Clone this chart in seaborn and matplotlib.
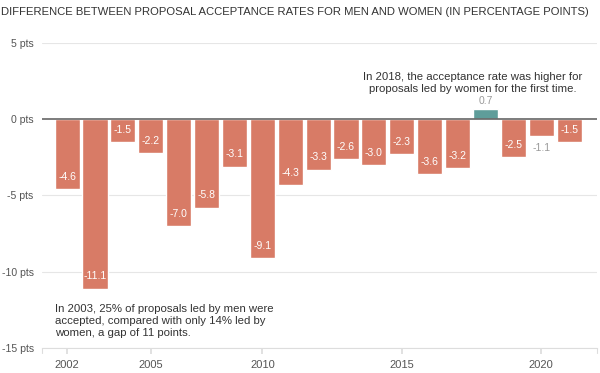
import matplotlib
matplotlib.use("Agg")
import matplotlib.pyplot as plt
import numpy as np
import pandas as pd
import seaborn as sns

# data (2009 is missing in the source)
years = ["2002", "2003", "2004", "2005", "2006", "2007", "2008", "2010", "2011", "2012",
         "2013", "2014", "2015", "2016", "2017", "2018", "2019", "2020", "2021"]
diff = [-4.6, -11.1, -1.5, -2.2, -7.0, -5.8, -3.1, -9.1, -4.3, -3.3,
        -2.6, -3.0, -2.3, -3.6, -3.2, 0.7, -2.5, -1.1, -1.5]
tick_years = ["2002", "2005", "2010", "2015", "2020"]
y_ticks = [5, 0, -5, -10, -15]

title = "DIFFERENCE BETWEEN PROPOSAL ACCEPTANCE RATES FOR MEN AND WOMEN (IN PERCENTAGE POINTS)"
note_2018 = "In 2018, the acceptance rate was higher for\nproposals led by women for the first time."
note_2003 = "In 2003, 25% of proposals led by men were\naccepted, compared with only 14% led by\nwomen, a gap of 11 points."

NEG = "#d87b66"
POS = "#5f9d9a"

df = pd.DataFrame({"year": years, "diff": diff})
df["sign"] = np.where(df["diff"] > 0, "pos", "neg")

sns.set_theme(style="white")
plt.rcParams["font.family"] = ["Liberation Sans", "DejaVu Sans"]

fig = plt.figure(figsize=(6, 3.73), dpi=100)
ax = fig.add_axes([42 / 600, 1 - 348 / 373, 555 / 600, 305 / 373])

sns.barplot(data=df, x="year", y="diff", hue="sign", order=years,
            palette={"neg": NEG, "pos": POS}, dodge=False, width=0.9,
            legend=False, ax=ax, saturation=1)

ax.set_ylim(-15, 5)
ax.set_xlim(-0.9, 19.0)
ax.set_yticks(y_ticks)
ax.set_yticklabels([f"{t} pts" for t in y_ticks])
for t in y_ticks:
    if t == 0:
        continue
    ax.axhline(t, color="#e6e6e6", lw=0.8, zorder=0)
ax.axhline(0, color="#666666", lw=1.2, zorder=3)

ax.set_xticks([years.index(y) for y in tick_years])
ax.set_xticklabels(tick_years)
ax.set_xlabel("")
ax.set_ylabel("")
for s in ["top", "right", "left"]:
    ax.spines[s].set_visible(False)
ax.spines["bottom"].set_color("#dddddd")
ax.spines["bottom"].set_linewidth(0.8)
ax.tick_params(axis="x", length=4, color="#dddddd", colors="#555555", labelsize=8, pad=5,
               bottom=True)
ax.tick_params(axis="y", length=0, colors="#555555", labelsize=7.6, pad=6)
# end ticks on the axis
for xe in ax.get_xlim():
    ax.plot([xe, xe], [-15, -15.3], color="#dddddd", lw=0.8, clip_on=False)

# value labels
for i, v in enumerate(diff):
    if v > 0:
        ax.text(i, v + 0.5, f"{v:.1f}", ha="center", va="center", color="#999999", fontsize=7.5)
    elif v > -1.3:
        ax.text(i, v - 0.8, f"{v:.1f}", ha="center", va="center", color="#999999", fontsize=7.5)
    else:
        ax.text(i, v + 0.8, f"{v:.1f}", ha="center", va="center", color="white", fontsize=7.5)

ax.text(years.index("2018") - 0.45, 2.4, note_2018, ha="center", va="center",
        color="#333333", fontsize=8.2, linespacing=1.25, clip_on=False)
ax.text(-0.45, -12.1, note_2003, ha="left", va="top", color="#333333",
        fontsize=8.2, linespacing=1.25)

fig.text(0.002, 1 - 12 / 373, title, ha="left", va="center", color="#333333",
         fontsize=8.1, fontweight="normal")

fig.savefig("out.png", dpi=100)
